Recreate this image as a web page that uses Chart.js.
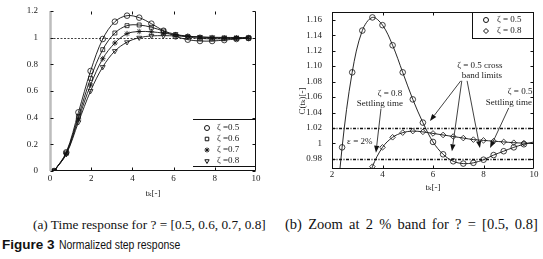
<!DOCTYPE html>
<html>
<head>
<meta charset="utf-8">
<script src="https://cdn.jsdelivr.net/npm/chart.js@4.4.1/dist/chart.umd.min.js"></script>
<style>
  body { margin: 0; background: #fff; }
  #page { position: relative; width: 543px; height: 259px; overflow: hidden; background: #fff; }
  canvas { position: absolute; top: 0; }
  #chartA { left: 0; }
  #chartB { left: 270px; }
  .cap { position: absolute; font-family: "Liberation Serif", "Times New Roman", serif; color: #111; white-space: nowrap; line-height: 16px; }
  #capA { left: 33px; top: 217px; font-size: 13.3px; }
  #capB { left: 285px; top: 216px; font-size: 14.5px; word-spacing: 2.6px; }
  #fig { position: absolute; left: 2px; top: 236px; white-space: nowrap; color: #111; line-height: 16px; }
  #fig b { font-family: "Liberation Sans", Arial, sans-serif; font-size: 13.5px; }
  #fig span { display: inline-block; font-family: "Liberation Sans", Arial, sans-serif; font-size: 12px; transform: scaleX(0.87); transform-origin: 0 50%; }
</style>
</head>
<body>
<div id="page">
  <canvas id="chartA" width="270" height="200"></canvas>
  <canvas id="chartB" width="273" height="200"></canvas>
  <div class="cap" id="capA">(a) Time response for ? = [0.5, 0.6, 0.7, 0.8]</div>
  <div class="cap" id="capB">(b) Zoom at 2 % band for ? = [0.5, 0.8]</div>
  <div id="fig"><b>Figure 3</b> <span>Normalized step response</span></div>
</div>
<script>
// (a) step response, marker samples
const tA = [0.2, 0.79, 1.38, 1.97, 2.56, 3.15, 3.74, 4.33, 4.92, 5.51, 6.1, 6.69, 7.28, 7.87, 8.46, 9.05, 9.64];
const zeta05A = [0, 0.14, 0.44, 0.75, 0.99, 1.12, 1.165, 1.15, 1.105, 1.052, 1.01, 0.985, 0.975, 0.975, 0.982, 0.99, 0.997];
const zeta06A = [0, 0.135, 0.41, 0.695, 0.91, 1.035, 1.09, 1.095, 1.078, 1.05, 1.024, 1.006, 0.995, 0.991, 0.992, 0.994, 0.996];
const zeta07A = [0, 0.13, 0.39, 0.645, 0.842, 0.96, 1.03, 1.046, 1.044, 1.034, 1.022, 1.012, 1.004, 1.0, 0.998, 0.998, 0.999];
const zeta08A = [0, 0.126, 0.366, 0.6, 0.78, 0.9, 0.966, 1.0, 1.013, 1.015, 1.013, 1.009, 1.006, 1.003, 1.002, 1.001, 1.0];
const xTicksA = [0, 2, 4, 6, 8, 10];
const yTicksA = [0, 0.2, 0.4, 0.6, 0.8, 1, 1.2];
const yLabelsA = ['0', '0.2', '0.4', '0.6', '0.8', '1', '1.2'];
const refA = [1];

// (b) zoom on the 2 % band
const tB = [2.0, 2.4, 2.8, 3.2, 3.6, 4.0, 4.4, 4.8, 5.2, 5.6, 6.0, 6.4, 6.8, 7.2, 7.6, 8.0, 8.4, 8.8, 9.2, 9.6, 10.0];
const zeta05B = [0.849, 0.995, 1.092, 1.146, 1.163, 1.153, 1.127, 1.092, 1.057, 1.027, 1.002, 0.986, 0.977, 0.974, 0.975, 0.979, 0.985, 0.99, 0.995, 0.999, 1.002];
const zeta08B = [0.676, 0.787, 0.87, 0.93, 0.97, 0.995, 1.008, 1.014, 1.016, 1.015, 1.013, 1.011, 1.009, 1.007, 1.005, 1.004, 1.003, 1.002, 1.001, 1.0005, 1.0];
const xTicksB = [2, 4, 6, 8, 10];
const yTicksB = [0.98, 1, 1.02, 1.04, 1.06, 1.08, 1.1, 1.12, 1.14, 1.16];
const yLabelsB = ['0.98', '1', '1.02', '1.04', '1.06', '1.08', '1.10', '1.12', '1.14', '1.16'];
const bandB = [0.98, 1.02];

// annotations of (b), in data units
const notesB = [
  { text: 'ζ = 0.8', x: 4.3, y: 1.064 },
  { text: 'Settling time', x: 3.9, y: 1.051 },
  { text: 'ε = 2%', x: 3.1, y: 1.003 },
  { text: 'ζ = 0.5 cross', x: 7.86, y: 1.101 },
  { text: 'band limits', x: 7.94, y: 1.088 },
  { text: 'ζ = 0.5', x: 9.45, y: 1.067 },
  { text: 'Settling time', x: 9.0, y: 1.053 },
];
const arrowsB = [
  { from: [3.94, 1.045], to: [3.74, 0.988] },
  { from: [7.1, 1.081], to: [5.88, 1.029] },
  { from: [7.14, 1.081], to: [6.75, 0.99] },
  { from: [7.35, 1.081], to: [7.86, 0.994] },
  { from: [9.0, 1.046], to: [8.26, 0.994] },
];

const ink = '#111';
const serif = '"Liberation Serif", "DejaVu Serif", serif';
Chart.defaults.font.family = serif;
Chart.defaults.font.size = 9;
Chart.defaults.color = '#222';
Chart.defaults.animation = false;

function pts(xs, ys) {
  return xs.map((x, i) => ({ x: x, y: ys[i] }));
}

function series(label, xs, ys, style, rot) {
  return {
    label: label,
    data: pts(xs, ys),
    borderColor: ink,
    borderWidth: 0.9,
    tension: 0.35,
    pointStyle: style,
    pointRotation: rot || 0,
    pointRadius: ctx => (ctx.raw && ctx.raw.x > 9.9 ? 0 : 2.8),
    pointBorderColor: ink,
    pointBackgroundColor: 'rgba(0,0,0,0)',
    pointBorderWidth: 0.8,
  };
}

// frame, inward ticks, reference lines
const framePlugin = {
  id: 'frame',
  beforeDatasetsDraw(chart, args, o) {
    const { ctx, chartArea: a, scales } = chart;
    ctx.save();
    ctx.strokeStyle = ink;
    ctx.lineWidth = o.refWidth;
    ctx.setLineDash(o.refDash);
    o.refs.forEach(v => {
      const y = Math.round(scales.y.getPixelForValue(v)) + 0.5;
      ctx.beginPath();
      ctx.moveTo(a.left, y);
      ctx.lineTo(a.right, y);
      ctx.stroke();
    });
    ctx.restore();
  },
  afterDatasetsDraw(chart, args, o) {
    const { ctx, chartArea: a, scales } = chart;
    const L = Math.round(a.left) + 0.5, R = Math.round(a.right) - 0.5;
    const T = Math.round(a.top) + 0.5, B = Math.round(a.bottom) - 0.5;
    ctx.save();
    ctx.lineWidth = 1;
    ctx.strokeStyle = ink;
    ctx.beginPath();
    ctx.moveTo(L, B); ctx.lineTo(R, B);
    ctx.moveTo(R, B); ctx.lineTo(R, T);
    if (o.top) { ctx.moveTo(L, T); ctx.lineTo(R, T); }
    ctx.stroke();
    ctx.beginPath();
    ctx.strokeStyle = o.leftColor;
    ctx.lineWidth = o.leftWidth;
    ctx.moveTo(L, B + 0.5); ctx.lineTo(L, T - 0.5);
    ctx.stroke();
    ctx.strokeStyle = ink;
    ctx.lineWidth = 1;
    ctx.beginPath();
    scales.y.ticks.forEach(t => {
      const y = Math.round(scales.y.getPixelForValue(t.value)) + 0.5;
      ctx.moveTo(L, y); ctx.lineTo(L + 3, y);
      ctx.moveTo(R, y); ctx.lineTo(R - 3, y);
    });
    scales.x.ticks.forEach(t => {
      const x = Math.round(scales.x.getPixelForValue(t.value)) + 0.5;
      if (x <= L + 1 || x >= R - 1) return;
      ctx.moveTo(x, B); ctx.lineTo(x, B - 3);
      ctx.moveTo(x, T); ctx.lineTo(x, T + 3);
    });
    ctx.stroke();
    ctx.restore();
  }
};

// legend drawn inside the plot area
const legendPlugin = {
  id: 'boxLegend',
  afterDraw(chart, args, o) {
    const { ctx, chartArea: a } = chart;
    const x0 = a.right - o.width, x1 = a.right;
    ctx.save();
    if (o.box) {
      ctx.fillStyle = '#fff';
      ctx.fillRect(x0, o.top, o.width, o.height);
      ctx.strokeStyle = ink;
      ctx.lineWidth = 1;
      ctx.strokeRect(Math.round(x0) + 0.5, o.top + 0.5, o.width - 1, o.height);
    } else {
      ctx.strokeStyle = ink;
      ctx.lineWidth = 1;
      ctx.beginPath();
      ctx.moveTo(x0, o.top + 0.5); ctx.lineTo(x1, o.top + 0.5);
      ctx.moveTo(x0, o.top + o.height + 0.5); ctx.lineTo(x1, o.top + o.height + 0.5);
      ctx.stroke();
    }
    ctx.font = '9px ' + serif;
    ctx.textBaseline = 'middle';
    chart.data.datasets.forEach((ds, i) => {
      const y = o.top + o.first + i * o.step;
      ctx.strokeStyle = ink;
      ctx.fillStyle = 'rgba(0,0,0,0)';
      Chart.helpers.drawPoint(ctx, { pointStyle: ds.pointStyle, radius: 2.5, rotation: ds.pointRotation || 0, borderWidth: 0.8 }, x0 + o.symX, y);
      ctx.fillStyle = '#222';
      ctx.fillText(ds.label, x0 + o.textX, y);
    });
    ctx.restore();
  }
};

// text notes and arrows of (b)
const notesPlugin = {
  id: 'notes',
  afterDraw(chart, args, o) {
    if (!o.notes) return;
    const { ctx, scales } = chart;
    const px = v => scales.x.getPixelForValue(v), py = v => scales.y.getPixelForValue(v);
    ctx.save();
    ctx.font = '9px ' + serif;
    ctx.fillStyle = '#222';
    ctx.textAlign = 'center';
    ctx.textBaseline = 'middle';
    o.notes.forEach(n => ctx.fillText(n.text, px(n.x), py(n.y)));
    ctx.strokeStyle = ink;
    ctx.fillStyle = ink;
    ctx.lineWidth = 0.8;
    o.arrows.forEach(ar => {
      const x1 = px(ar.from[0]), y1 = py(ar.from[1]);
      const x2 = px(ar.to[0]), y2 = py(ar.to[1]);
      const ang = Math.atan2(y2 - y1, x2 - x1);
      const hl = 7, hw = 2.6;
      const bx = x2 - hl * Math.cos(ang), by = y2 - hl * Math.sin(ang);
      ctx.beginPath();
      ctx.moveTo(x1, y1); ctx.lineTo(bx, by);
      ctx.stroke();
      ctx.beginPath();
      ctx.moveTo(x2, y2);
      ctx.lineTo(bx + hw * Math.sin(ang), by - hw * Math.cos(ang));
      ctx.lineTo(bx - hw * Math.sin(ang), by + hw * Math.cos(ang));
      ctx.closePath();
      ctx.fill();
    });
    if (o.yTitle) {
      ctx.translate(o.yTitle.x, o.yTitle.y);
      ctx.rotate(-Math.PI / 2);
      ctx.fillStyle = '#222';
      ctx.fillText(o.yTitle.text, 0, 0);
    }
    ctx.restore();
  }
};

function axisX(ticksList, min, max, pad, titlePad, height) {
  return {
    type: 'linear', min: min, max: max,
    grid: { display: false }, border: { display: false },
    afterBuildTicks: s => { s.ticks = ticksList.map(v => ({ value: v })); },
    afterFit: s => { s.height = height; },
    ticks: { padding: pad, maxRotation: 0, callback: v => String(v) },
    title: { display: true, text: 'tₖ[-]', padding: { top: 0, bottom: titlePad }, font: { size: 9 } },
  };
}

function axisY(ticksList, labels, min, max, pad, width) {
  return {
    type: 'linear', min: min, max: max,
    grid: { display: false }, border: { display: false },
    afterBuildTicks: s => { s.ticks = ticksList.map(v => ({ value: v })); },
    afterFit: s => { s.width = width; },
    ticks: { padding: pad, callback: (v, i) => labels[i] },
  };
}

new Chart(document.getElementById('chartA'), {
  type: 'line',
  data: {
    datasets: [
      series('ζ =0.5', tA, zeta05A, 'circle'),
      series('ζ =0.6', tA, zeta06A, 'rect'),
      series('ζ =0.7', tA, zeta07A, 'star'),
      series('ζ =0.8', tA, zeta08A, 'triangle', 180),
    ]
  },
  options: {
    responsive: false,
    devicePixelRatio: 1,
    layout: { padding: { top: 11, right: 14, left: 0, bottom: 0 } },
    scales: {
      x: axisX(xTicksA, 0, 10, -6, 1, 29),
      y: axisY(yTicksA, yLabelsA, 0, 1.2, 4, 50),
    },
    plugins: {
      legend: { display: false },
      tooltip: { enabled: false },
      frame: { refs: refA, refDash: [2, 1.5], refWidth: 0.8, top: false, leftColor: '#bdbdbd', leftWidth: 2.5 },
      boxLegend: { box: false, top: 119, height: 47, width: 63, first: 9, step: 11, symX: 14, textX: 24 },
      notes: {},
    }
  },
  plugins: [framePlugin, legendPlugin, notesPlugin]
});

new Chart(document.getElementById('chartB'), {
  type: 'line',
  data: {
    datasets: [
      series('ζ = 0.5', tB, zeta05B, 'circle'),
      series('ζ = 0.8', tB, zeta08B, 'rectRot'),
    ]
  },
  options: {
    responsive: false,
    devicePixelRatio: 1,
    layout: { padding: { top: 12, right: 9, left: 0, bottom: 0 } },
    scales: {
      x: axisX(xTicksB, 2, 10, -8, 7, 31),
      y: axisY(yTicksB, yLabelsB, 0.967, 1.17, 2, 62),
    },
    plugins: {
      legend: { display: false },
      tooltip: { enabled: false },
      frame: { refs: bandB, refDash: [3, 1.5, 1, 1.5], refWidth: 1.3, top: true, leftColor: ink, leftWidth: 1 },
      boxLegend: { box: true, top: 12, height: 26, width: 62, first: 8, step: 11, symX: 14, textX: 25 },
      notes: { notes: notesB, arrows: arrowsB, yTitle: { text: 'C(tₖ)[-]', x: 33, y: 101 } },
    }
  },
  plugins: [framePlugin, legendPlugin, notesPlugin]
});
</script>
</body>
</html>
